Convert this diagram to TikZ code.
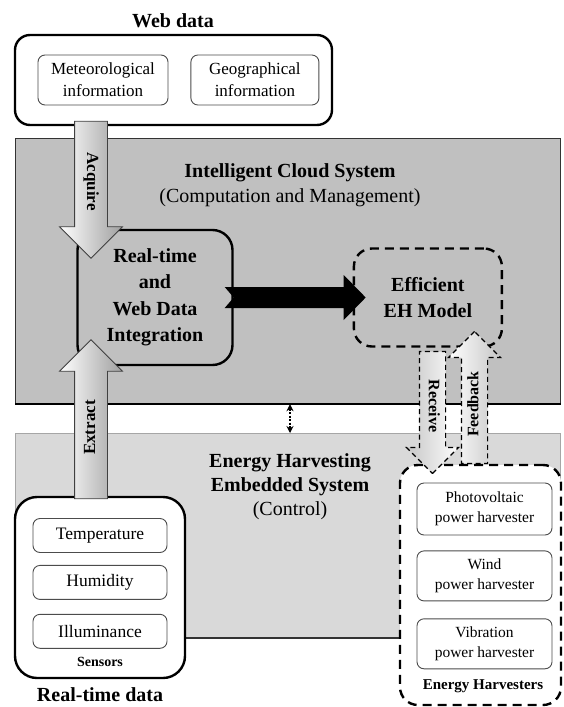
\documentclass[tikz,border=0pt]{standalone}
\usepackage{fontspec}
\setmainfont{Liberation Serif}
\usetikzlibrary{calc, positioning, arrows.meta, shapes.arrows}

\definecolor{cloudgray}{HTML}{C0C0C0}
\definecolor{ctrlgray}{HTML}{D9D9D9}

\begin{document}
\begin{tikzpicture}[
    x=1pt, y=-1pt,
    panel/.style = {draw, rectangle, anchor=north west, inner sep=0pt},
    outerbox/.style = {draw, rectangle, rounded corners=15pt, line width=2.4pt, fill=white},
    itembox/.style = {draw=black!70, rectangle, rounded corners=7pt, line width=0.9pt,
                      fill=white, align=center, inner sep=0pt},
    procbox/.style = {draw, rectangle, rounded corners=18pt, line width=2.4pt, align=center,
                      font=\fontsize{20}{26.5}\selectfont\bfseries},
    longdash/.style = {dash pattern=on 9pt off 6pt},
    ttl/.style = {font=\fontsize{20}{22}\selectfont\bfseries},
    blockarr/.style = {single arrow, draw=black!75, line width=0.8pt, single arrow tip angle=90,
                       single arrow head extend=15pt, inner xsep=2pt, inner ysep=8pt,
                       text height=12pt, text depth=4pt,
                       font=\fontsize{17}{17}\selectfont\bfseries},
    dasharr/.style = {single arrow, draw, line width=1.2pt, dash pattern=on 5pt off 3.5pt,
                      single arrow tip angle=90, single arrow head extend=13pt,
                      inner xsep=2pt, inner ysep=5.25pt, text height=11pt, text depth=3.5pt,
                      font=\fontsize{16}{16}\selectfont\bfseries},
    linkarr/.style = {{Stealth[length=7pt,width=7pt]}-{Stealth[length=7pt,width=7pt]},
                      line width=1.6pt, dash pattern=on 2pt off 1.5pt},
]
\useasboundingbox (0,0) rectangle (563,707);

% system panels
\node[panel, fill=cloudgray, draw=black!80, line width=1.2pt,
      minimum width=545pt, minimum height=265pt] (cloud) at (15,138) {};
\node[panel, fill=ctrlgray, draw=gray!70, line width=0.8pt,
      minimum width=545pt, minimum height=204pt] (embed) at (15,433) {};
\draw[line width=2.2pt] (cloud.south west) -- (cloud.south east);
\draw[line width=1.6pt, black!80] (embed.south west) -- (embed.south east);

\node[font=\fontsize{20}{25}\selectfont, align=center] (cloudttl) at (290,185)
    {\textbf{Intelligent Cloud System}\\(Computation and Management)};
\node[font=\fontsize{20}{24}\selectfont, align=center] (ehsttl) at (290,487)
    {\textbf{Energy Harvesting}\\\textbf{Embedded System}\\(Control)};

\draw[linkarr] (ehsttl |- cloud.south) -- (ehsttl |- embed.north);

% web data
\node[outerbox, minimum width=317pt, minimum height=90pt] (web) at (173.5,80) {};
\node[itembox, minimum width=130pt, minimum height=50pt,
      font=\fontsize{17}{22}\selectfont] (meteo) at (103,80) {Meteorological\\information};
\node[itembox, minimum width=128pt, minimum height=50pt,
      font=\fontsize{17}{22}\selectfont, right=22pt of meteo] (geo) {Geographical\\information};
\node[ttl] (webttl) at (173,21) {Web data};

% cloud processing
\node[procbox, rounded corners=20pt, minimum width=155pt, minimum height=135pt] (integ)
    at (155,297.5) {Real-time\\and\\Web Data\\Integration};
\node[procbox, longdash, minimum width=148pt, minimum height=98pt, right=119pt of integ] (model)
    {Efficient\\EH Model};

% sensors
\node[outerbox, rounded corners=22pt, minimum width=170pt, minimum height=181pt] (sensors)
    at (100,587.5) {};
\node[itembox, minimum width=134pt, minimum height=34pt,
      font=\fontsize{17.5}{20}\selectfont] (temp) at (100,535.5) {Temperature};
\node[itembox, minimum width=134pt, minimum height=34pt,
      font=\fontsize{17.5}{20}\selectfont, below=12pt of temp] (humid) {Humidity};
\node[itembox, minimum width=134pt, minimum height=34pt,
      font=\fontsize{17.5}{20}\selectfont, below=14pt of humid] (illum) {Illuminance};
\node[font=\fontsize{14}{14}\selectfont\bfseries] (senslbl) at (100,662) {Sensors};
\node[ttl] (rtttl) at (100,695) {Real-time data};

% harvesters
\node[outerbox, longdash, rounded corners=18pt, minimum width=161pt, minimum height=240pt] (harv)
    at (480.5,585) {};
\node[itembox, minimum width=135pt, minimum height=52pt,
      font=\fontsize{15.5}{20}\selectfont] (pv) at (484.5,509) {Photovoltaic\\power harvester};
\node[itembox, minimum width=135pt, minimum height=50pt,
      font=\fontsize{15.5}{20}\selectfont, below=15pt of pv] (wind) {Wind\\power harvester};
\node[itembox, minimum width=135pt, minimum height=50pt,
      font=\fontsize{15.5}{20}\selectfont, below=17pt of wind] (vib) {Vibration\\power harvester};
\node[font=\fontsize{15}{15}\selectfont\bfseries] (harvlbl) at (483,686) {Energy Harvesters};

% arrows
\fill (integ.east) -- ++(-9,-10.5) -- ($(model.west)+(-9,-10.5)$) -- ++(0,-12)
    -- ($(model.west)+(13,0)$) -- ++(-22,22.5) -- ++(0,-12)
    -- ($(integ.east)+(-9,10.5)$) -- cycle;

\node[blockarr, rotate=-90, minimum height=137pt, left color=white, right color=gray!75] (acq)
    at (91,181.5) {Acquire};
\node[blockarr, rotate=90, minimum height=159pt, left color=white, right color=gray!75] (ext)
    at (91,427.5) {Extract};
\node[dasharr, rotate=-90, minimum height=122pt, left color=gray!45, right color=white] (recv)
    at (432.5,406) {Receive};
\node[dasharr, rotate=90, minimum height=132pt, left color=white, right color=gray!45] (feed)
    at (474.5,404) {Feedback};
\end{tikzpicture}
\end{document}
